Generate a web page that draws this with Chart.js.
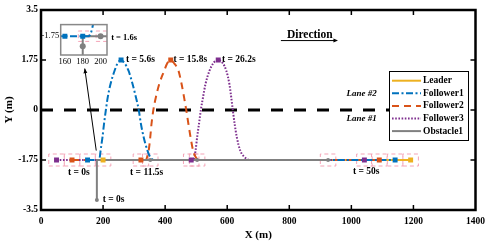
<!DOCTYPE html>
<html>
<head>
<meta charset="utf-8">
<script src="https://cdn.jsdelivr.net/npm/chart.js@4.4.0/dist/chart.umd.min.js"></script>
<style>
html, body { margin: 0; padding: 0; background: #fff; }
#wrap { position: relative; width: 491px; height: 245px; }
#main { position: absolute; left: 0; top: 0; }
#inset { position: absolute; left: 20px; top: 18px; }
</style>
</head>
<body>
<div id="wrap">
<canvas id="main" width="491" height="245"></canvas>
<canvas id="inset" width="91" height="55"></canvas>
</div>
<script>
// valores de los ejes
var xTicks = [0, 200, 400, 600, 800, 1000, 1200, 1400];
var yTicks = [-3.5, -1.75, 0, 1.75, 3.5];

// trayectorias (X en m, Y en m)
var leaderX = [200, 1191];
var leaderY = [-1.75, -1.75];
var f1X = [150, 186, 189, 192, 198, 203, 209, 215, 224, 237, 246, 258, 270, 282, 295, 306, 315, 322, 331, 343, 352, 365, 1141];
var f1Y = [-1.75, -1.75, -1.68, -1.42, -0.96, -0.49, 0, 0.44, 0.91, 1.375, 1.62, 1.75, 1.63, 1.375, 0.91, 0.44, 0, -0.49, -0.96, -1.42, -1.65, -1.75, -1.75];
var f2X = [100, 338, 343, 347, 352, 356, 362, 370, 381, 397, 406, 418, 430, 443, 453, 461, 468, 475, 482, 490, 496, 508, 1090];
var f2Y = [-1.75, -1.75, -1.6, -1.42, -0.96, -0.49, 0, 0.44, 0.91, 1.375, 1.62, 1.75, 1.62, 1.375, 0.91, 0.44, 0, -0.49, -0.96, -1.42, -1.6, -1.75, -1.75];
var f3X = [50, 488, 492, 498, 503, 509, 515, 522, 530, 543, 556, 571, 585, 597, 607, 613, 618, 624, 631, 642, 656, 674, 1042];
var f3Y = [-1.75, -1.75, -1.72, -1.42, -0.96, -0.49, 0, 0.44, 0.91, 1.375, 1.65, 1.75, 1.65, 1.375, 0.91, 0.44, 0, -0.49, -0.96, -1.42, -1.65, -1.75, -1.75];
var obsX = [180, 180, 925];
var obsY = [-3.15, -1.75, -1.75];

// posiciones marcadas en ciertos instantes
var leaderMarkX = [200, 1191];
var leaderMarkY = [-1.75, -1.75];
var f1MarkX = [150, 258, 1141];
var f1MarkY = [-1.75, 1.75, -1.75];
var f2MarkX = [100, 322, 418, 1090];
var f2MarkY = [-1.75, -1.75, 1.75, -1.75];
var f3MarkX = [50, 484, 571, 1042];
var f3MarkY = [-1.75, -1.75, 1.75, -1.75];
var obsMarkX = [180, 352, 503, 925];
var obsMarkY = [-3.15, -1.75, -1.75, -1.75];
var boxX = [50, 100, 150, 200, 322, 352, 484, 503, 925, 1042, 1090, 1141, 1191];
var boxY = [-1.75, -1.75, -1.75, -1.75, -1.75, -1.75, -1.75, -1.75, -1.75, -1.75, -1.75, -1.75, -1.75];

// zoom (t = 1.6s)
var insetXTicks = [160, 180, 200];
var insetYTicks = [-1.75];
var insetF1MarkX = [160, 180];
var insetF1MarkY = [-1.75, -1.75];
var insetObsMarkX = [180, 200];
var insetObsMarkY = [-2.0, -1.75];
var insetBoxX = [181, 201];
var insetBoxY = [-1.75, -1.75];

// textos
var noteText = ['t = 1.6s', 't = 5.6s', 't = 15.8s', 't = 26.2s', 't = 0s', 't = 11.5s', 't = 0s', 't = 50s'];
var noteX = [226, 274, 427, 583, 87, 287, 199, 1005];
var noteY = [2.54, 1.78, 1.78, 1.78, -2.18, -2.18, -3.15, -2.16];

var C = { leader: '#EDB120', f1: '#0072BD', f2: '#D95319', f3: '#7E2F8E', obs: '#808080', box: '#F4A3B6' };
var serif = '"Liberation Serif", "Times New Roman", serif';

var styles = [
    { label: 'Leader', color: C.leader, dash: [], width: 2 },
    { label: 'Follower1', color: C.f1, dash: [7, 2.5, 2, 2.5], width: 2 },
    { label: 'Follower2', color: C.f2, dash: [7, 5], width: 2 },
    { label: 'Follower3', color: C.f3, dash: [1.6, 1.6], width: 2 },
    { label: 'Obstacle1', color: C.obs, dash: [], width: 2 }
];

function pts(xs, ys) {
    return xs.map(function (x, i) { return { x: x, y: ys[i] }; });
}

function lineSet(xs, ys, st, order, smooth) {
    return {
        data: pts(xs, ys), showLine: true, pointRadius: 0,
        borderColor: st.color, borderWidth: st.width, borderDash: st.dash,
        cubicInterpolationMode: smooth ? 'monotone' : 'default', tension: 0,
        order: order
    };
}

function markSet(xs, ys, color, shape, r) {
    return {
        data: pts(xs, ys), showLine: false, pointStyle: shape, pointRadius: r,
        backgroundColor: color, borderColor: color, borderWidth: 0, order: 0
    };
}

function boxSets(xs, ys, hw, hh) {
    return xs.map(function (x, i) {
        var y = ys[i];
        return {
            data: [{ x: x - hw, y: y - hh }, { x: x + hw, y: y - hh }, { x: x + hw, y: y + hh }, { x: x - hw, y: y + hh }, { x: x - hw, y: y - hh }],
            showLine: true, pointRadius: 0, borderColor: C.box, borderWidth: 1,
            borderDash: [4, 3], tension: 0, order: 8
        };
    });
}

// Dibujo principal
var mainSets = [
    { data: [{ x: 0, y: 0 }, { x: 1400, y: 0 }], showLine: true, pointRadius: 0, borderColor: '#000', borderWidth: 3, borderDash: [12, 11], order: 7 },
    lineSet(leaderX, leaderY, styles[0], 5, false),
    lineSet(f3X, f3Y, styles[3], 4, true),
    lineSet(f2X, f2Y, styles[2], 3, true),
    lineSet(f1X, f1Y, styles[1], 2, true),
    lineSet(obsX, obsY, styles[4], 1, false),
    markSet(leaderMarkX, leaderMarkY, C.leader, 'rect', 3.5),
    markSet(f1MarkX, f1MarkY, C.f1, 'rect', 3.5),
    markSet(f2MarkX, f2MarkY, C.f2, 'rect', 3.5),
    markSet(f3MarkX, f3MarkY, C.f3, 'rect', 3.5),
    markSet(obsMarkX, obsMarkY, C.obs, 'circle', 2)
].concat(boxSets(boxX, boxY, 25, 0.21));

function arrowHead(ctx, x1, y1, x2, y2, size) {
    var ang = Math.atan2(y2 - y1, x2 - x1);
    ctx.beginPath();
    ctx.moveTo(x2, y2);
    ctx.lineTo(x2 - size * Math.cos(ang - 0.4), y2 - size * Math.sin(ang - 0.4));
    ctx.lineTo(x2 - size * Math.cos(ang + 0.4), y2 - size * Math.sin(ang + 0.4));
    ctx.closePath();
    ctx.fill();
}

var decor = {
    id: 'decor',
    afterDatasetsDraw: function (chart) {
        var ctx = chart.ctx, a = chart.chartArea, sx = chart.scales.x, sy = chart.scales.y;
        ctx.save();
        // marco y marcas interiores
        ctx.strokeStyle = '#000';
        ctx.lineWidth = 2.5;
        ctx.strokeRect(a.left, a.top, a.right - a.left, a.bottom - a.top);
        ctx.lineWidth = 1.5;
        ctx.beginPath();
        xTicks.slice(1, -1).forEach(function (v) {
            var p = sx.getPixelForValue(v);
            ctx.moveTo(p, a.bottom); ctx.lineTo(p, a.bottom - 5);
            ctx.moveTo(p, a.top); ctx.lineTo(p, a.top + 5);
        });
        yTicks.slice(1, -1).forEach(function (v) {
            var p = sy.getPixelForValue(v);
            ctx.moveTo(a.left, p); ctx.lineTo(a.left + 5, p);
            ctx.moveTo(a.right, p); ctx.lineTo(a.right - 5, p);
        });
        ctx.stroke();

        // flecha hacia el zoom
        ctx.fillStyle = '#000';
        ctx.lineWidth = 1;
        var t0x = sx.getPixelForValue(178), t0y = sy.getPixelForValue(-1.42);
        var t1x = sx.getPixelForValue(141), t1y = sy.getPixelForValue(1.45);
        ctx.beginPath(); ctx.moveTo(t0x, t0y); ctx.lineTo(t1x, t1y); ctx.stroke();
        arrowHead(ctx, t0x, t0y, t1x, t1y, 5);

        // Direction
        ctx.font = 'bold 11.5px ' + serif;
        ctx.textAlign = 'center';
        ctx.textBaseline = 'middle';
        ctx.fillText('Direction', sx.getPixelForValue(866), sy.getPixelForValue(2.62));
        var d0 = sx.getPixelForValue(773), d1 = sx.getPixelForValue(957), dy = sy.getPixelForValue(2.43);
        ctx.beginPath(); ctx.moveTo(d0, dy); ctx.lineTo(d1 - 3, dy); ctx.stroke();
        arrowHead(ctx, d0, dy, d1, dy, 5);

        // carriles
        ctx.font = 'italic bold 9px ' + serif;
        ctx.textAlign = 'right';
        ctx.fillText('Lane #2', sx.getPixelForValue(1082), sy.getPixelForValue(0.56));
        ctx.fillText('Lane #1', sx.getPixelForValue(1082), sy.getPixelForValue(-0.31));

        // anotaciones de tiempo
        ctx.textAlign = 'left';
        noteText.forEach(function (t, i) {
            ctx.font = 'bold ' + (i === 0 ? 8.5 : 9.5) + 'px ' + serif;
            ctx.fillText(t, sx.getPixelForValue(noteX[i]), sy.getPixelForValue(noteY[i]));
        });

        // leyenda
        var lx = 389, ly = 71, lw = 79, lh = 69;
        ctx.fillStyle = '#fff';
        ctx.fillRect(lx, ly, lw, lh);
        ctx.strokeStyle = '#000';
        ctx.lineWidth = 1;
        ctx.strokeRect(lx + 0.5, ly + 0.5, lw, lh);
        ctx.font = 'bold 9.5px ' + serif;
        styles.forEach(function (st, i) {
            var yy = ly + 9.7 + i * 12.6;
            ctx.strokeStyle = st.color;
            ctx.lineWidth = st.width;
            ctx.setLineDash(st.dash);
            ctx.beginPath(); ctx.moveTo(lx + 3, yy); ctx.lineTo(lx + 32, yy); ctx.stroke();
            ctx.setLineDash([]);
            ctx.fillStyle = '#000';
            ctx.fillText(st.label, lx + 34, yy);
        });
        ctx.restore();
    }
};

var tickFont = { family: serif, weight: 'bold', size: 9.5 };
var titleFont = { family: serif, weight: 'bold', size: 11 };

new Chart(document.getElementById('main'), {
    type: 'scatter',
    data: { datasets: mainSets },
    options: {
        responsive: false,
        animation: false,
        events: [],
        layout: { padding: { left: 0, right: 12.5, top: 10, bottom: 0 } },
        plugins: { legend: { display: false }, tooltip: { enabled: false } },
        scales: {
            x: {
                type: 'linear', min: 0, max: 1400,
                afterBuildTicks: function (s) { s.ticks = xTicks.map(function (v) { return { value: v }; }); },
                afterFit: function (s) { s.height = 35; },
                grid: { display: false, drawTicks: false },
                border: { display: false },
                ticks: { font: tickFont, color: '#000', padding: 6, maxRotation: 0, callback: function (v) { return String(v); } },
                title: { display: true, text: 'X (m)', font: titleFont, color: '#000', padding: { top: 0, bottom: 3.5 } }
            },
            y: {
                type: 'linear', min: -3.5, max: 3.5,
                afterBuildTicks: function (s) { s.ticks = yTicks.map(function (v) { return { value: v }; }); },
                afterFit: function (s) { s.width = 41; },
                grid: { display: false, drawTicks: false },
                border: { display: false },
                ticks: { font: tickFont, color: '#000', padding: 3, callback: function (v) { return String(v); } },
                title: { display: true, text: 'Y (m)', font: titleFont, color: '#000', padding: { top: 2.5, bottom: 0 } }
            }
        }
    },
    plugins: [decor]
});

// Recuadro de zoom
var insetSets = [
    lineSet(obsX, obsY, styles[4], 2, false),
    lineSet(f1X, f1Y, styles[1], 1, true),
    markSet(insetF1MarkX, insetF1MarkY, C.f1, 'rect', 3.5),
    markSet(insetObsMarkX, insetObsMarkY, C.obs, 'circle', 3)
].concat(boxSets(insetBoxX, insetBoxY, 6, 0.13));

var insetFrame = {
    id: 'insetFrame',
    beforeDraw: function (chart) {
        var a = chart.chartArea, ctx = chart.ctx;
        ctx.save();
        ctx.fillStyle = '#fff';
        ctx.fillRect(a.left, a.top, a.right - a.left, a.bottom - a.top);
        ctx.restore();
    },
    afterDatasetsDraw: function (chart) {
        var a = chart.chartArea, ctx = chart.ctx;
        ctx.save();
        ctx.strokeStyle = '#888';
        ctx.lineWidth = 1.5;
        ctx.strokeRect(a.left, a.top, a.right - a.left, a.bottom - a.top);
        ctx.restore();
    }
};

var insetFont = { family: serif, size: 8.5 };

new Chart(document.getElementById('inset'), {
    type: 'scatter',
    data: { datasets: insetSets },
    options: {
        responsive: false,
        animation: false,
        events: [],
        layout: { padding: { left: 0, right: 2.7, top: 6.3, bottom: 0 } },
        plugins: { legend: { display: false }, tooltip: { enabled: false } },
        scales: {
            x: {
                type: 'linear', min: 155.3, max: 207.2,
                afterBuildTicks: function (s) { s.ticks = insetXTicks.map(function (v) { return { value: v }; }); },
                afterFit: function (s) { s.height = 18; },
                grid: { display: false, drawTicks: false },
                border: { display: false },
                ticks: { font: insetFont, color: '#000', padding: 2, maxRotation: 0, callback: function (v) { return String(v); } }
            },
            y: {
                type: 'linear', min: -2.22, max: -1.46,
                afterBuildTicks: function (s) { s.ticks = insetYTicks.map(function (v) { return { value: v }; }); },
                afterFit: function (s) { s.width = 40.7; },
                grid: { display: false, drawTicks: false },
                border: { display: false },
                ticks: { font: insetFont, color: '#000', padding: 1.5, callback: function (v) { return String(v); } }
            }
        }
    },
    plugins: [insetFrame]
});
</script>
</body>
</html>
